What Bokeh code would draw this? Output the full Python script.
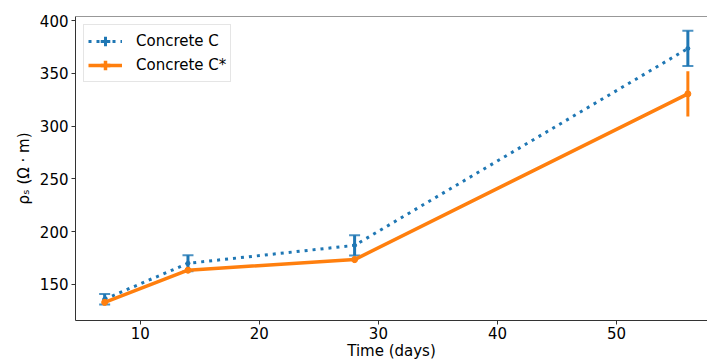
from bokeh.plotting import figure
from bokeh.models import ColumnDataSource, Range1d, Legend, LegendItem, Span
from bokeh.embed import file_html
from bokeh.resources import INLINE

# ---- data ----
days = [7, 14, 28, 56]
c_mean = [136.0, 170.0, 187.0, 373.5]
c_err = [5.0, 7.5, 9.6, 16.7]
cstar_mean = [133.0, 163.5, 173.5, 330.5]
cstar_err = [3.0, 3.0, 3.0, 21.4]
x_ticks = [10, 20, 30, 40, 50]
y_ticks = [150, 200, 250, 300, 350, 400]
labels = ["Concrete C", "Concrete C*"]

BLUE = "#1f77b4"
ORANGE = "#ff7f0e"
FONT = "DejaVu Sans"
SPINE = "#333333"

Y0, Y1 = 115.8, 403.8
p = figure(width=707, height=362, output_backend="svg", toolbar_location=None,
           x_range=Range1d(4.55, 57.65), y_range=Range1d(Y0, Y1),
           min_border_left=75, min_border_right=0, min_border_top=16,
           min_border_bottom=0)

p.xgrid.visible = False
p.ygrid.visible = False
p.outline_line_color = None
p.background_fill_color = "white"
p.border_fill_color = "white"

for ax in (p.xaxis[0], p.yaxis[0]):
    ax.major_tick_out = 4
    ax.major_tick_in = 0
    ax.minor_tick_out = 0
    ax.minor_tick_in = 0
    ax.major_tick_line_color = SPINE
    ax.axis_line_color = SPINE
    ax.major_label_text_font = FONT
    ax.major_label_text_font_size = "15px"
    ax.major_label_text_color = "black"
    ax.axis_label_text_font = FONT
    ax.axis_label_text_font_size = "15px"
    ax.axis_label_text_font_style = "normal"
    ax.axis_label_text_color = "black"

p.xaxis.major_label_standoff = 2
p.xaxis.axis_label_standoff = 0
p.yaxis.major_label_standoff = 3
p.yaxis.axis_label_standoff = 4

p.xaxis.ticker = x_ticks
p.yaxis.ticker = y_ticks
p.xaxis.axis_label = "Time (days)"
p.yaxis.axis_label = "ρₛ (Ω · m)"

# top spine
p.add_layout(Span(location=Y1, dimension="width", line_color=SPINE, line_width=1))


def series(mean, err):
    return ColumnDataSource(dict(
        x=days, y=mean,
        lower=[m - e for m, e in zip(mean, err)],
        upper=[m + e for m, e in zip(mean, err)],
    ))


src_c = series(c_mean, c_err)
src_s = series(cstar_mean, cstar_err)

# Concrete C (blue, dotted, capped error bars)
p.segment(x0="x", y0="lower", x1="x", y1="upper", source=src_c,
          line_color=BLUE, line_width=3)
p.scatter(x="x", y="upper", source=src_c, marker="dash", size=11,
          line_color=BLUE, line_width=2, line_alpha=0.8)
p.scatter(x="x", y="lower", source=src_c, marker="dash", size=11,
          line_color=BLUE, line_width=2, line_alpha=0.8)
line_c = p.line(x="x", y="y", source=src_c, line_color=BLUE, line_width=3,
                line_dash="3 5")
dot_c = p.scatter(x="x", y="y", source=src_c, marker="circle", size=4,
                  fill_color=BLUE, line_color=BLUE)

# Concrete C* (orange, solid)
p.segment(x0="x", y0="lower", x1="x", y1="upper", source=src_s,
          line_color=ORANGE, line_width=3)
line_s = p.line(x="x", y="y", source=src_s, line_color=ORANGE, line_width=3.5)
dot_s = p.scatter(x="x", y="y", source=src_s, marker="circle", size=6,
                  fill_color=ORANGE, line_color=ORANGE)

# legend proxies (not drawn in the plot area)
nan = float("nan")
proxy_c = p.scatter(x=[nan], y=[nan], marker="cross",
                    line_color=BLUE, line_width=3)
proxy_s = p.scatter(x=[nan], y=[nan], marker="cross",
                    line_color=ORANGE, line_width=3.5)

legend = Legend(items=[
    LegendItem(label=labels[0], renderers=[line_c, proxy_c]),
    LegendItem(label=labels[1], renderers=[line_s, proxy_s]),
], location="top_left")
legend.label_text_font = FONT
legend.label_text_font_size = "15px"
legend.label_text_color = "black"
legend.glyph_width = 34
legend.glyph_height = 24
legend.label_height = 24
legend.spacing = 0
legend.padding = 4
legend.margin = 8
legend.label_standoff = 14
legend.border_line_color = "#cccccc"
legend.border_line_width = 1
legend.background_fill_alpha = 0.8
p.add_layout(legend)

open("out.html", "w").write(file_html(p, INLINE))
